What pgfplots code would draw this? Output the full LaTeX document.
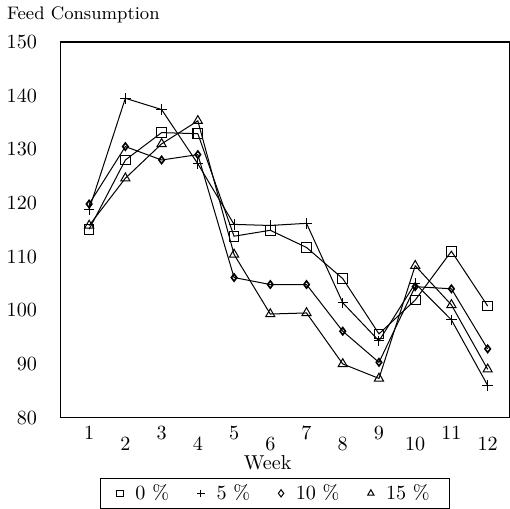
\documentclass[border=0pt]{standalone}
\usepackage{pgfplots}
\pgfplotsset{compat=1.18}
\begin{document}
\begin{tikzpicture}
\begin{axis}[
  scale only axis,
  width=223pt, height=186.5pt,
  xmin=0.2, xmax=12.6, ymin=80, ymax=150,
  axis line style={line width=0.6pt},
  ytick={80,90,...,150},
  ytick pos=left, xtick pos=bottom,
  tick align=inside,
  major tick length=0pt,
  xtick={1,3,...,11},
  extra x ticks={2,4,...,12},
  extra x tick style={major tick length=0pt, tick label style={yshift=-5.5pt}},
  x tick label style={yshift=-1pt},
  y tick label style={xshift=-8pt},
  xlabel={Week},
  every axis x label/.style={at={(axis description cs:0.462,-0.121)}, anchor=center},
  ylabel={Feed Consumption},
  every axis y label/.style={at={(axis description cs:-0.134,1.072)}, anchor=west, font=\small},
  legend columns=4,
  legend style={at={(axis description cs:0.479,-0.16)}, anchor=north, draw=black, line width=0.5pt,
    inner xsep=8pt, inner ysep=1pt,
    /tikz/every odd column/.append style={column sep=4pt},
    /tikz/every even column/.append style={column sep=12pt}},
  every axis plot/.append style={black, line width=0.5pt, mark options={solid, line width=0.5pt}},
]
% tick marks (axis decoration)
\pgfplotsinvokeforeach{90,100,110,120,130,140}{\draw[line width=0.6pt] (axis cs:0.2,#1) -- ++(3.5pt,0);}
\pgfplotsinvokeforeach{1,3,5,7,9,11}{\draw[line width=0.6pt] (axis cs:#1,80) -- ++(0,-1.8pt);}
\pgfplotsinvokeforeach{2,4,6,8,10,12}{\draw[line width=0.6pt] (axis cs:#1,80) -- ++(0,-4pt);}
\addplot[mark=square, mark size=2.4pt, forget plot] coordinates {
(1,115.1) (2,128.0) (3,133.1) (4,132.9) (5,113.8) (6,114.9) (7,111.7) (8,105.9) (9,95.6) (10,101.9) (11,111.0) (12,100.8)};
\addplot[mark=+, mark size=2.6pt, forget plot] coordinates {
(1,118.8) (2,139.5) (3,137.4) (4,127.3) (5,116.0) (6,115.8) (7,116.2) (8,101.4) (9,94.3) (10,105.0) (11,98.2) (12,86.0)};
\addplot[mark=diamond, mark size=1.8pt, mark options={line width=0.8pt}, forget plot] coordinates {
(1,119.8) (2,130.5) (3,128.0) (4,129.0) (5,106.1) (6,104.8) (7,104.8) (8,96.1) (9,90.3) (10,104.4) (11,104.0) (12,92.8)};
\addplot[mark=triangle, mark size=2.6pt, forget plot] coordinates {
(1,115.8) (2,124.6) (3,131.0) (4,135.3) (5,110.4) (6,99.3) (7,99.5) (8,90.0) (9,87.3) (10,108.3) (11,101.0) (12,89.0)};
\addlegendimage{only marks, black, mark=square, mark size=1.6pt}
\addlegendentry{0 \%}
\addlegendimage{only marks, black, mark=+, mark size=1.8pt}
\addlegendentry{5 \%}
\addlegendimage{only marks, black, mark=diamond, mark size=1.8pt}
\addlegendentry{10 \%}
\addlegendimage{only marks, black, mark=triangle, mark size=1.8pt}
\addlegendentry{15 \%}
\end{axis}
\end{tikzpicture}
\end{document}
